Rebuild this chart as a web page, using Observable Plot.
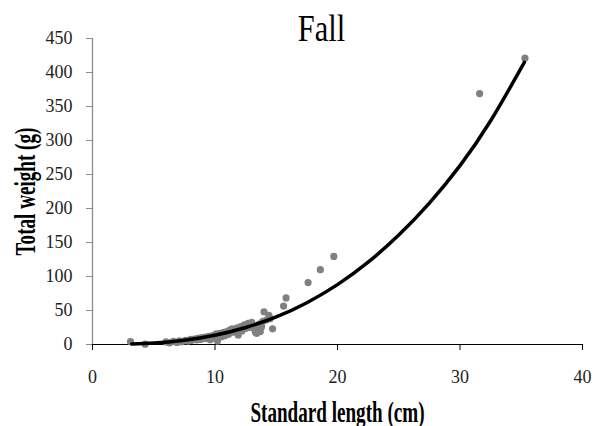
<!DOCTYPE html>
<html>
<head>
<meta charset="utf-8">
<script src="https://cdn.jsdelivr.net/npm/d3@7"></script>
<script src="https://cdn.jsdelivr.net/npm/@observablehq/plot@0.6"></script>
<style>
  html, body { margin: 0; padding: 0; background: white; }
</style>
</head>
<body>
<div id="chart"></div>
<script>
// Observed fish: standard length (cm) and total weight (g)
const lengths = [3.1, 4.3, 6.0, 6.3, 6.6, 6.9, 7.1, 7.3, 7.6, 7.8, 8.0, 8.1, 8.3, 8.5, 8.6, 8.8, 8.9, 9.1, 9.2, 9.4,
  9.5, 9.6, 9.7, 9.8, 9.9, 10.0, 10.1, 10.2, 10.3, 10.4, 10.5, 10.6, 10.7, 10.8, 10.9, 11.0, 11.1, 11.2, 11.3, 11.4,
  11.5, 11.6, 11.7, 11.8, 11.9, 12.0, 12.1, 12.2, 12.3, 12.4, 12.5, 12.6, 12.7, 12.8, 12.9, 13.0, 13.1, 13.2, 13.3, 13.4,
  13.5, 13.6, 13.7, 13.8, 13.9, 14.0, 14.2, 14.4, 14.5, 14.7, 15.6, 15.8, 17.6, 18.6, 19.7, 31.6, 35.3];
const weights = [4.1, 0.5, 3.8, 2.5, 4.5, 3.0, 5.5, 4.2, 6.0, 5.0, 7.5, 6.2, 8.0, 6.8, 9.0, 7.5, 10.0, 8.5, 11.0, 9.0,
  12.0, 7.0, 10.5, 13.0, 9.5, 12.0, 15.5, 5.0, 13.0, 16.5, 11.0, 14.5, 18.0, 13.0, 16.0, 19.5, 15.0, 21.0, 17.5, 23.0,
  19.0, 21.5, 18.0, 24.5, 14.0, 22.0, 26.5, 20.0, 25.0, 29.0, 23.5, 27.5, 31.0, 25.0, 29.5, 32.5, 27.0, 23.0, 18.0, 16.5,
  21.0, 30.0, 19.0, 26.0, 34.0, 48.0, 36.0, 43.0, 38.0, 23.0, 56.5, 68.5, 91.0, 110.0, 129.5, 369.0, 421.0];

// Fitted trend line
const fitLength = [3.2, 5.0, 7.5, 10.0, 12.5, 15.0, 17.5, 20.0, 22.5, 25.0, 27.5, 30.0, 32.5, 35.25];
const fitWeight = [0.7, 2.1, 6.4, 13.6, 25.0, 40.5, 61.5, 88.0, 121.0, 161.0, 208.0, 263.0, 329.0, 415.0];

const xTicks = [0, 10, 20, 30, 40];
const yTicks = [0, 50, 100, 150, 200, 250, 300, 350, 400, 450];

const titleText = "Fall";
const xLabel = "Standard length (cm)";
const yLabel = "Total weight (g)";

const points = lengths.map((L, i) => ({L, W: weights[i]}));
const fit = fitLength.map((L, i) => ({L, W: fitWeight[i]}));

const serif = "'Liberation Serif', 'Times New Roman', serif";

const chart = Plot.plot({
  width: 602,
  height: 426,
  marginLeft: 92,
  marginRight: 20,
  marginTop: 38,
  marginBottom: 82,
  style: {fontFamily: serif, fontSize: "17px", background: "white", color: "black", overflow: "visible"},
  x: {domain: [0, 40]},
  y: {domain: [0, 450]},
  marks: [
    Plot.ruleX([0], {stroke: "#8c8c8c", strokeWidth: 1.3}),
    Plot.axisY(yTicks, {tickSize: 6, tickPadding: 14, stroke: "#8c8c8c", label: null, fontSize: 18, fill: "#222"}),
    Plot.axisX(xTicks, {tickSize: 6, tickPadding: 20, label: null, fontSize: 18, fill: "#222"}),
    Plot.ruleY([0], {stroke: "black", strokeWidth: 1.2}),
    Plot.dot(points, {x: "L", y: "W", r: 3.6, fill: "#808080", stroke: "none"}),
    Plot.line(fit, {x: "L", y: "W", stroke: "black", strokeWidth: 3.5, curve: "natural"}),
    Plot.text([titleText], {frameAnchor: "top", textAnchor: "middle", dx: -16, dy: 2, fontSize: 38, fill: "black", lineAnchor: "middle"}),
    Plot.text([xLabel], {frameAnchor: "bottom", textAnchor: "middle", dy: 77, fontSize: 29, fontWeight: "bold", fill: "black", lineAnchor: "middle"}),
    Plot.text([yLabel], {frameAnchor: "left", textAnchor: "middle", rotate: -90, dx: -58, fontSize: 29, fontWeight: "bold", fill: "black", lineAnchor: "middle"})
  ]
});

// Condense the big labels horizontally, as in the reference
const factors = {[titleText]: 0.8, [xLabel]: 0.66, [yLabel]: 0.66};
chart.querySelectorAll('g[aria-label="text"] text').forEach(t => {
  const f = factors[t.textContent];
  if (!f) return;
  const x = +t.getAttribute("x") || 0, y = +t.getAttribute("y") || 0;
  const tr = t.getAttribute("transform") || "";
  t.removeAttribute("x"); t.removeAttribute("y");
  t.setAttribute("transform", `${tr} translate(${x},${y}) scale(${f},1)`.trim());
});

document.getElementById("chart").appendChild(chart);
</script>
</body>
</html>
